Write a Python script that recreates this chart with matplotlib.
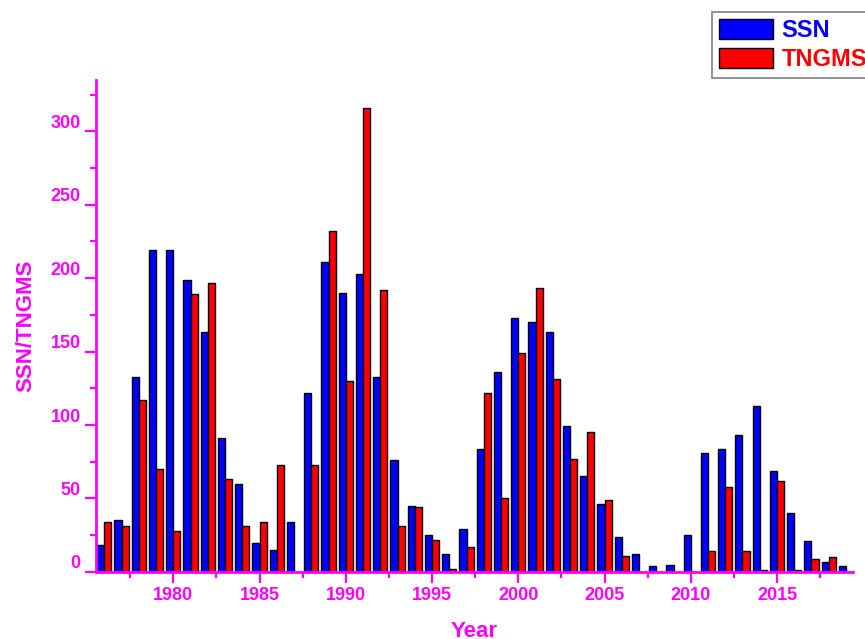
import numpy as np
import matplotlib
matplotlib.use("Agg")
import matplotlib.pyplot as plt
import matplotlib.transforms as mtransforms
from matplotlib.patches import Patch
from matplotlib.ticker import MultipleLocator

years = list(range(1976, 2020))

ssn = [18, 35, 133, 219, 219, 199, 163, 91, 60, 20,
       15, 34, 122, 211, 190, 203, 133, 76, 45, 25,
       12, 29, 84, 136, 173, 170, 163, 99, 65, 46,
       24, 12, 4, 5, 25, 81, 84, 93, 113, 69,
       40, 21, 7, 4]

tngms = [34, 31, 117, 70, 28, 189, 197, 63, 31, 34,
         73, 0, 73, 232, 130, 316, 192, 31, 44, 22,
         2, 17, 122, 50, 149, 193, 131, 77, 95, 49,
         11, 0, 0, 0, 0, 14, 58, 14, 1, 62,
         1, 9, 10, 0]

magenta = "#FF00FF"
plt.rcParams["font.family"] = ["Liberation Sans", "DejaVu Sans"]
plt.rcParams["font.weight"] = "bold"

fig = plt.figure(figsize=(8.65, 6.39), dpi=100)
ax = fig.add_axes([0.111, 0.105, 0.875, 0.770])

x = np.array(years)
w = 0.41
ax.bar(x - w / 2, ssn, width=w, color="#0000FF", edgecolor="black", linewidth=1.0)
ax.bar(x + w / 2, tngms, width=w, color="#FF0000", edgecolor="black", linewidth=1.0)

ax.set_xlim(1975.52, 2019.4)
ax.set_ylim(0, 335)

# axis styling
for side in ["top", "right"]:
    ax.spines[side].set_visible(False)
for side in ["left", "bottom"]:
    ax.spines[side].set_color(magenta)
    ax.spines[side].set_linewidth(2)

ax.xaxis.set_major_locator(MultipleLocator(5))
ax.xaxis.set_minor_locator(MultipleLocator(2.5))
ax.yaxis.set_major_locator(MultipleLocator(50))
ax.yaxis.set_minor_locator(MultipleLocator(25))
ax.tick_params(which="major", direction="out", length=8, width=1.6,
               color=magenta, labelcolor=magenta, labelsize=13, pad=3)
ax.tick_params(which="minor", direction="out", length=4, width=1.6, color=magenta)

# tick labels in the reference sit a little above their ticks
offset = mtransforms.ScaledTranslation(0, 10 / 100, fig.dpi_scale_trans)
for lab in ax.get_yticklabels():
    lab.set_transform(lab.get_transform() + offset)
    lab.set_fontweight("bold")
for lab in ax.get_xticklabels():
    lab.set_fontweight("bold")

ax.set_xlabel("Year", color=magenta, fontsize=16, fontweight="bold", labelpad=12)
ax.set_ylabel("SSN/TNGMS", color=magenta, fontsize=16, fontweight="bold", labelpad=10)

handles = [Patch(facecolor="#0000FF", edgecolor="black", linewidth=1),
           Patch(facecolor="#FF0000", edgecolor="black", linewidth=1)]
leg = fig.legend(handles, ["SSN", "TNGMS"], loc="upper left",
                 bbox_to_anchor=(712 / 865, 1 - 12 / 639), borderaxespad=0,
                 prop={"weight": "bold", "size": 17},
                 handlelength=2.3, handleheight=0.9, handletextpad=0.35,
                 labelspacing=0.25, borderpad=0.3, fancybox=False,
                 framealpha=1, edgecolor="gray")
leg.get_frame().set_linewidth(1.2)
for txt, c in zip(leg.get_texts(), ["#0000FF", "#FF0000"]):
    txt.set_color(c)

fig.savefig("out.png", dpi=100)
